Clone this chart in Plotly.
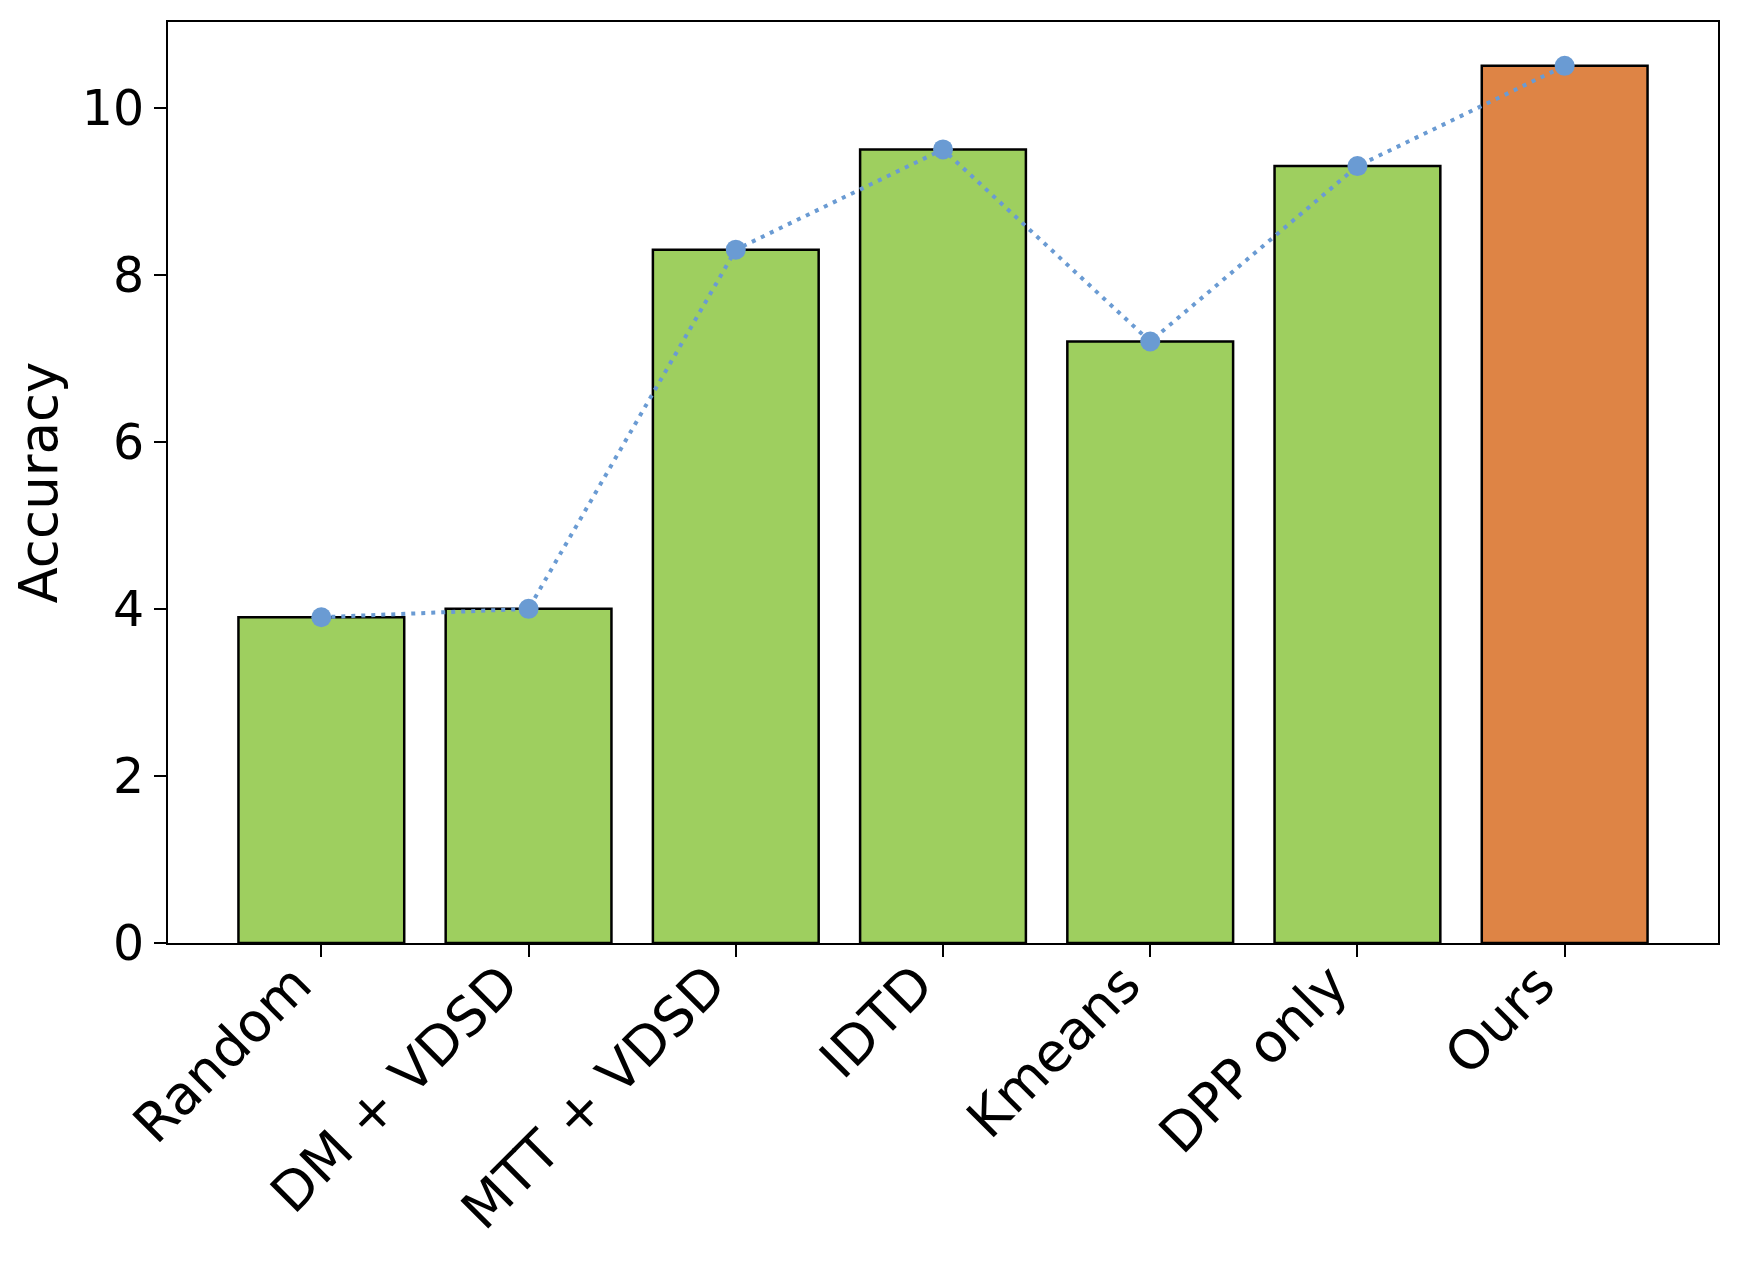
import plotly.graph_objects as go

# methods compared and their accuracy
methods = ["Random", "DM + VDSD", "MTT + VDSD", "IDTD", "Kmeans", "DPP only", "Ours"]
accuracy = [3.9, 4.0, 8.3, 9.5, 7.2, 9.3, 10.5]
y_ticks = [0, 2, 4, 6, 8, 10]

GREEN = "#9ecf5f"
ORANGE = "#de8445"
BLUE = "#6a9bd3"

bar_colors = [ORANGE if m == "Ours" else GREEN for m in methods]
x_pos = list(range(len(methods)))

fig = go.Figure()

fig.add_trace(go.Bar(
    x=x_pos, y=accuracy,
    width=0.8,
    marker=dict(color=bar_colors, line=dict(color="black", width=2.5)),
    showlegend=False,
))

# dotted trend line over the bar tops
fig.add_trace(go.Scatter(
    x=x_pos, y=accuracy,
    mode="lines+markers",
    line=dict(color=BLUE, width=4, dash="4px,6px"),
    marker=dict(color=BLUE, size=20),
    showlegend=False,
))

FAMILY = "DejaVu Sans"

# the page has an 8px body margin, margins are offset for it
fig.update_layout(
    width=1738, height=1273,
    margin=dict(l=160, r=28, t=12, b=338),
    plot_bgcolor="white", paper_bgcolor="white",
    font=dict(family=FAMILY, size=49, color="black"),
)

fig.update_xaxes(
    range=[-0.74, len(methods) - 1 + 0.74],
    tickvals=x_pos, ticktext=methods,
    tickangle=-45,
    ticks="outside", ticklen=12, tickwidth=2, tickcolor="black",
    ticklabelstandoff=-26, ticklabelshift=-26,
    showline=True, linecolor="black", linewidth=2, mirror=True,
    showgrid=False, zeroline=False,
    tickfont=dict(family=FAMILY, size=54, color="black"),
)

fig.update_yaxes(
    range=[0, 11.025],
    tickvals=y_ticks,
    ticks="outside", ticklen=12, tickwidth=2, tickcolor="black",
    showline=True, linecolor="black", linewidth=2, mirror=True,
    showgrid=False, zeroline=False,
    tickfont=dict(family=FAMILY, size=49, color="black"),
    title=dict(text="Accuracy", font=dict(family=FAMILY, size=53, color="black"), standoff=18),
)

fig.write_html("out.html")
